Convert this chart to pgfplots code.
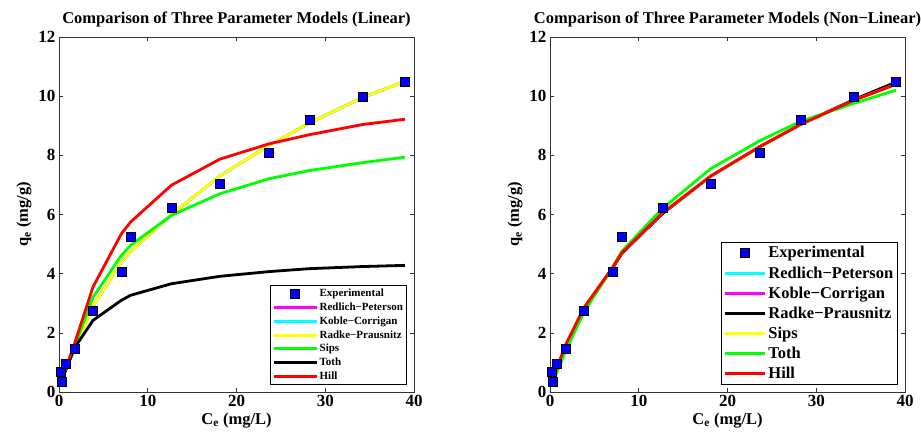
\documentclass[border=0pt]{standalone}
\usepackage{fontspec}
\setmainfont{Liberation Serif}
\usepackage{pgfplots}
\pgfplotsset{compat=1.18}
\usepackage{pgfplotstable}

\definecolor{mcyan}{RGB}{0,255,255}
\definecolor{mmagenta}{RGB}{255,0,255}
\definecolor{myellow}{RGB}{255,255,0}
\definecolor{mgreen}{RGB}{0,255,0}
\definecolor{mred}{RGB}{255,0,0}
\definecolor{mblue}{RGB}{0,0,255}

% Experimental data
\pgfplotstableread{
x y
0.26 0.34
0.20 0.68
0.75 0.96
1.77 1.46
3.83 2.74
7.03 4.06
8.08 5.24
12.67 6.22
18.12 7.04
23.68 8.08
28.27 9.22
34.17 9.97
38.98 10.50
}\expdata

% Linear fits
\pgfplotstableread{
x rp kc radke sips toth hill
0.30 0.40 0.40 0.40 0.40 0.40 0.40
1.77 1.50 1.50 1.50 1.55 1.50 1.65
3.83 2.90 2.90 2.90 3.20 2.42 3.55
7.03 4.40 4.40 4.40 4.62 3.10 5.35
8.08 4.75 4.75 4.75 4.96 3.27 5.75
12.67 6.00 6.00 6.00 5.97 3.66 6.99
18.12 7.30 7.30 7.30 6.70 3.91 7.87
23.68 8.34 8.34 8.34 7.21 4.07 8.39
28.27 9.10 9.10 9.10 7.49 4.17 8.70
34.17 9.95 9.95 9.95 7.75 4.24 9.04
38.98 10.50 10.50 10.50 7.94 4.28 9.22
}\lindata

% Non-linear fits
\pgfplotstableread{
x rp kc radke sips toth hill
0.30 0.42 0.42 0.42 0.45 0.30 0.45
1.77 1.55 1.55 1.55 1.60 1.40 1.60
3.83 2.82 2.82 2.82 2.85 2.70 2.85
7.03 4.18 4.18 4.18 4.20 4.20 4.20
8.08 4.68 4.68 4.68 4.70 4.75 4.70
12.67 6.03 6.03 6.03 6.05 6.20 6.05
18.12 7.30 7.30 7.30 7.30 7.55 7.30
23.68 8.30 8.30 8.30 8.30 8.50 8.30
28.27 9.05 9.05 9.05 9.05 9.15 9.05
34.17 9.87 9.87 9.87 9.85 9.75 9.85
38.98 10.47 10.47 10.47 10.40 10.20 10.40
}\nldata

\pgfplotsset{
  myaxis/.style={
    width=355pt, height=355pt, scale only axis,
    xmin=0, xmax=40, ymin=0, ymax=12,
    xtick={0,10,20,30,40}, ytick={0,2,4,6,8,10,12},
    tick align=inside,
    major tick length=4pt,
    axis line style={black!80, line width=0.8pt},
    tick style={black!80, line width=0.6pt},
    /pgf/number format/assume math mode=true,
    ticklabel style={font=\fontsize{17}{17}\selectfont\bfseries},
    title style={font=\fontsize{16.5}{18}\selectfont\bfseries, yshift=0pt},
    label style={font=\fontsize{16.5}{18}\selectfont\bfseries},
    xlabel={C\textsubscript{e} (mg/L)},
    ylabel={q\textsubscript{e} (mg/g)},
    xlabel style={yshift=1pt},
    ylabel style={yshift=0pt},
    legend cell align=left,
    legend style={draw=black, line width=0.8pt, inner sep=2pt},
  },
  fitline/.style={line width=2.8pt, no marks},
  expmark/.style={only marks, mark=square*, mark size=4.5pt, mark options={fill=mblue, draw=black, line width=0.4pt}},
  leglinL/.style={legend image code/.code={\draw[#1, line width=3pt] (0pt,0pt) -- (43pt,0pt);}},
  leglinR/.style={legend image code/.code={\draw[#1, line width=3pt] (0pt,0pt) -- (40pt,0pt);}},
  legmarkL/.style={legend image code/.code={\draw[#1] plot coordinates {(21.5pt,0pt)};}},
  legmarkR/.style={legend image code/.code={\draw[#1] plot coordinates {(20pt,0pt)};}},
}

\begin{document}
\begin{tikzpicture}
\useasboundingbox (0pt,0pt) rectangle (921pt,435pt);
\begin{axis}[myaxis, at={(59pt,43pt)}, anchor=south west,
  title={Comparison of Three Parameter Models (Linear)},
  legend style={at={(0.98,0.02)}, anchor=south east,
    font=\fontsize{11}{11}\selectfont\bfseries,
    row sep=1.4pt,
    nodes={inner sep=1.6pt}},
]
\addplot[expmark, legmarkL] table[x=x,y=y] {\expdata};
\addlegendentry{Experimental}
\addplot[fitline, mmagenta, leglinL] table[x=x,y=rp] {\lindata};
\addlegendentry{Redlich−Peterson}
\addplot[fitline, mcyan, leglinL] table[x=x,y=kc] {\lindata};
\addlegendentry{Koble−Corrigan}
\addplot[fitline, myellow, leglinL] table[x=x,y=radke] {\lindata};
\addlegendentry{Radke−Prausnitz}
\addplot[fitline, mgreen, leglinL] table[x=x,y=sips] {\lindata};
\addlegendentry{Sips}
\addplot[fitline, black, leglinL] table[x=x,y=toth] {\lindata};
\addlegendentry{Toth}
\addplot[fitline, mred, leglinL] table[x=x,y=hill] {\lindata};
\addlegendentry{Hill}
\end{axis}

\begin{axis}[myaxis, at={(550pt,43pt)}, anchor=south west,
  title={Comparison of Three Parameter Models (Non−Linear)},
  legend style={at={(0.98,0.02)}, anchor=south east,
    font=\fontsize{16.5}{16.5}\selectfont\bfseries,
    row sep=2.8pt,
    nodes={inner sep=2.2pt}},
]
\addplot[expmark, legmarkR] table[x=x,y=y] {\expdata};
\addlegendentry{Experimental}
\addplot[fitline, mcyan, leglinR] table[x=x,y=rp] {\nldata};
\addlegendentry{Redlich−Peterson}
\addplot[fitline, mmagenta, leglinR] table[x=x,y=kc] {\nldata};
\addlegendentry{Koble−Corrigan}
\addplot[fitline, black, leglinR] table[x=x,y=radke] {\nldata};
\addlegendentry{Radke−Prausnitz}
\addplot[fitline, myellow, leglinR] table[x=x,y=sips] {\nldata};
\addlegendentry{Sips}
\addplot[fitline, mgreen, leglinR] table[x=x,y=toth] {\nldata};
\addlegendentry{Toth}
\addplot[fitline, mred, leglinR] table[x=x,y=hill] {\nldata};
\addlegendentry{Hill}
\end{axis}
\end{tikzpicture}
\end{document}
